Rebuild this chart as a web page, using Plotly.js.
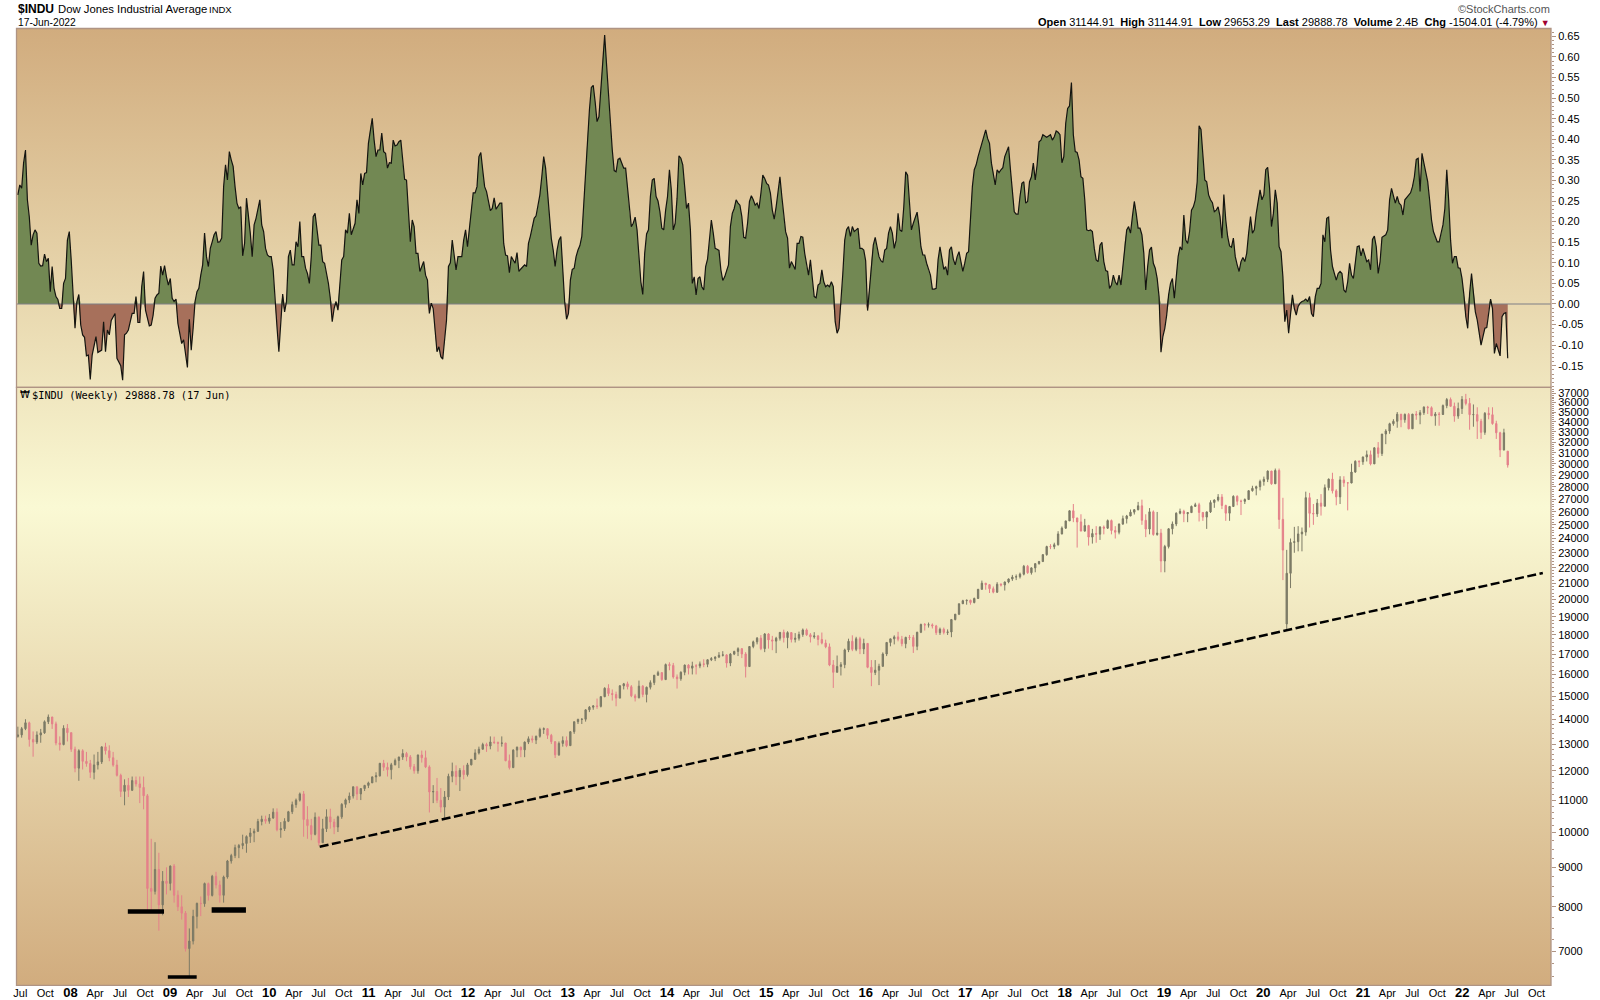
<!DOCTYPE html>
<html><head><meta charset="utf-8">
<script src="https://cdn.plot.ly/plotly-3.0.1.min.js"></script>
<style>
html,body{margin:0;padding:0;background:#fff;width:1600px;height:1000px;overflow:hidden}
#bg{position:absolute;left:16.5px;top:28.5px;width:1534.5px;height:957px;background:linear-gradient(#D1AC7E 0%,#FAF9D4 50%,#D1AC7E 100%)}
#chart{position:absolute;left:0;top:0;width:1600px;height:1000px}
</style></head><body>
<div id="bg"></div><div id="chart"></div>
<script>
// Weekly indicator reading, first 2007-06-22, last 2022-06-17
const indicator = [
.265,.289,.281,.342,.374,.253,.212,.143,.168,.18,.172,.099,.092,.093,.121,.103,.111,.03,.091,.038,.018,.011,-.011,-.011,.05,.062,.155,.176,.107,.018,-.059,.006,.023,-.051,-.075,-.081,-.126,-.124,-.183,-.124,-.104,-.079,-.118,-.116,-.112,-.043,-.116,-.063,-.075,-.04,-.031,-.023,-.132,-.14,-.15,-.185,-.075,-.071,-.063,-.043,-.023,-.023,.018,-.045,-.045,.042,.079,-.015,-.035,-.053,-.051,-.027,.014,.022,.026,.092,.07,.093,.066,.046,.062,.014,.006,.012,-.047,-.071,-.096,-.087,-.12,-.154,-.037,-.112,-.059,.006,.03,.038,.07,.095,.172,.115,.091,.135,.151,.168,.176,.15,.151,.16,.285,.338,.301,.37,.35,.334,.285,.245,.232,.236,.117,.147,.257,.22,.172,.115,.192,.208,.232,.253,.192,.176,.135,.119,.115,.115,.083,.002,-.055,-.116,-.039,.024,-.019,.006,.115,.131,.095,.095,.151,.139,.2,.115,.115,.087,.074,.05,.115,.212,.22,.18,.143,.143,.103,.099,.074,.05,.014,-.043,-.011,.006,-.015,.05,.107,.115,.18,.172,.22,.168,.18,.196,.253,.22,.317,.289,.317,.319,.39,.427,.451,.398,.358,.374,.374,.415,.37,.366,.33,.343,.342,.398,.384,.386,.394,.398,.342,.303,.301,.228,.151,.204,.188,.123,.123,.079,.091,.103,.07,.058,-.023,.002,-.011,-.071,-.116,-.104,-.128,-.134,-.087,-.039,.091,.1,.155,.115,.083,.115,.115,.115,.155,.18,.139,.188,.228,.27,.27,.285,.358,.368,.325,.285,.273,.249,.227,.232,.258,.23,.236,
.245,.245,.147,.119,.117,.076,.115,.107,.099,.125,.079,.085,.091,.095,.091,.147,.165,.184,.208,.214,.236,.265,.309,.358,.33,.277,.216,.159,.131,.091,.13,.155,.164,.091,.006,-.037,-.023,.058,.084,.087,.115,.131,.142,.164,.245,.325,.406,.471,.526,.531,.491,.443,.455,.524,.593,.653,.581,.504,.439,.374,.324,.321,.351,.354,.342,.33,.33,.285,.224,.188,.196,.211,.18,.115,.054,.023,.123,.17,.18,.261,.301,.305,.261,.25,.224,.184,.18,.228,.261,.326,.277,.18,.196,.257,.36,.354,.338,.285,.232,.245,.18,.05,.066,.022,.062,.066,.042,.034,.091,.109,.151,.204,.172,.135,.133,.13,.083,.057,.066,.084,.095,.188,.22,.232,.253,.245,.24,.212,.162,.16,.196,.249,.263,.253,.24,.245,.232,.269,.313,.305,.293,.289,.269,.228,.206,.236,.269,.309,.261,.212,.175,.16,.087,.103,.091,.084,.147,.147,.164,.162,.123,.091,.07,.107,.058,.018,.015,.046,.05,.083,.054,.042,.046,.042,.054,.042,-.043,-.071,-.059,-.002,.074,.155,.181,.188,.164,.188,.176,.18,.184,.135,.135,.131,.105,-.016,.042,.107,.143,.162,.135,.115,.105,.101,.131,.135,.172,.188,.172,.135,.155,.22,.18,.176,.236,.321,.313,.236,.18,.196,.212,.223,.188,.139,.119,.119,.099,.081,.07,.036,.036,.038,.107,.139,.115,.084,.091,.07,.131,.139,.109,.095,.115,.127,.103,.079,.099,.123,.127,.22,.285,.326,.338,.358,.374,.39,.406,.423,.402,.39,.342,.32,.289,.326,.319,.326,.331,.358,.37,.382,.326,.277,.224,.218,.218,.261,.293,.297,.245,.249,.297,.309,.342,.301,.338,.394,.398,.411,.407,.405,.408,
.411,.398,.406,.42,.417,.411,.343,.358,.439,.475,.481,.538,.411,.37,.368,.35,.309,.305,.253,.18,.178,.18,.176,.135,.107,.103,.143,.15,.103,.081,.079,.038,.046,.07,.054,.046,.07,.046,.091,.151,.18,.188,.172,.212,.249,.22,.184,.184,.168,.123,.034,.091,.131,.138,.099,.087,.062,.018,-.117,-.079,-.059,-.027,.022,.05,.062,.014,.066,.115,.139,.131,.216,.155,.147,.176,.228,.236,.253,.297,.433,.424,.362,.301,.297,.265,.253,.246,.224,.228,.236,.212,.16,.266,.204,.164,.141,.138,.16,.115,.095,.079,.103,.113,.103,.123,.172,.212,.172,.18,.22,.249,.277,.253,.265,.326,.332,.281,.188,.22,.277,.245,.139,.127,.066,-.043,-.015,-.071,-.027,.022,-.011,-.027,-.006,.002,.006,.008,.012,.006,.018,-.023,-.031,.018,.038,.038,.05,.168,.151,.208,.211,.131,.091,.074,.058,.074,.079,.074,.034,.028,.054,.099,.07,.062,.107,.139,.141,.117,.135,.119,.103,.107,.083,.157,.165,.139,.074,.103,.162,.165,.168,.18,.253,.281,.261,.245,.261,.245,.24,.216,.253,.259,.265,.27,.285,.309,.351,.354,.273,.366,.342,.321,.297,.253,.204,.176,.162,.151,.151,.168,.192,.232,.326,.253,.155,.099,.115,.115,.088,.087,.062,.022,-.031,-.059,.026,.074,.034,-.019,-.039,-.071,-.1,-.079,-.059,-.057,-.015,.012,-.011,-.12,-.096,-.112,-.126,-.031,-.023,-.021,-.132];

// Two-weekly price bars, first 2007-06-22, last 2022-06-17
const closes = [
13360,13611,13851,13181,13079,13357,13442,13895,14093,13806,13042,12980,13625,13450,
12800,12099,12743,12348,12266,11951,12216,12325,12891,12745,12479,12209,11842,11288,11496,11326,11659,11543,11421,11143,8451,8378,8943,8046,8635,8579,
9034,8281,8000,7850,7062,7223,7776,8083,8076,8574,8277,8763,8539,8280,8743,9171,9321,9544,9605,9665,9864,9972,10023,10318,10388,10328,
10428,10609,10067,10099,10325,10624,10850,10997,11204,10380,10193,9931,10450,9686,10097,10465,10303,10150,10462,10860,11006,11132,11444,11203,11382,11491,
11578,11787,11823,12273,12130,12044,12220,12380,12505,12638,12512,12151,12004,12582,12479,12143,11269,11284,10992,10771,11103,11809,11983,11796,12019,11866,12217,
12422,12660,12801,12983,12922,13080,13060,13029,13038,12369,12118,12767,12880,12777,13075,13207,13157,13306,13579,13610,13343,13093,12588,13025,13135,12938,
13488,13895,13992,14000,14397,14512,14565,14547,14973,15354,15115,15070,14909,15464,15558,15425,15010,14922,15451,15072,15399,15615,15961,16086,15755,16478,
16437,15879,15794,16103,16452,16302,16412,16408,16512,16491,16717,16775,16851,16943,16960,16553,17001,17137,17279,17009,16380,17390,17634,17828,17280,18053,
17737,17672,17824,18140,17856,18127,17763,17826,18024,18272,18010,17898,17946,17760,17568,17373,16459,16102,16384,16472,17215,17663,17245,17798,17265,17552,
16346,16093,16204,16391,17006,17602,17792,17897,17773,17535,17873,17865,17400,18146,18570,18543,18552,18491,18123,18308,18138,18161,18847,19152,19756,19933,
19963,19827,20071,20624,21005,20914,20663,20453,20940,20896,21080,21271,21394,21414,21580,22092,21674,21987,22268,22405,22871,23434,23422,23557,24329,24754,
25295,26071,25520,25219,24538,24946,24103,24360,24311,24831,24753,25316,24580,24456,25058,25462,25669,25964,26154,26458,25339,24688,25989,24285,24389,22445,
23433,24706,25063,25883,26026,25848,25928,26412,26543,25942,25585,25983,26719,26922,27154,26485,25886,26403,27219,26820,26816,26958,27681,27875,28015,28455,
28634,29348,28256,29398,25409,23185,21636,23719,23775,24331,24465,27111,25871,25827,26672,26428,27931,28653,27665,27173,28586,28335,28323,29263,30218,30179,
30606,30814,29983,31458,30932,32779,33072,33800,34043,34777,34207,34756,33290,34786,34687,34935,35515,35455,34607,34798,34746,35677,36327,35601,34580,35365,36338,
35911,34725,34738,34058,32944,34861,34721,33811,32899,31262,32899,29888];
const highs = [
13692,13680,14000,13900,13500,13500,13600,13950,14198,14100,13900,13300,13750,13800,
13450,12900,12800,12800,12700,12400,12600,12700,12900,13050,12950,12700,12400,11900,11700,11750,11800,11800,11800,11800,11200,9800,9700,9400,8900,9000,
9050,9090,8400,8280,7900,7500,7930,8100,8250,8600,8600,8800,8880,8650,8780,9200,9370,9630,9650,9920,9900,10120,10100,10400,10500,10500,
10550,10730,10730,10300,10420,10650,10950,11050,11250,11300,10800,10400,10600,10480,10400,10700,10720,10400,10500,10900,11050,11250,11450,11450,11400,11510,
11620,11800,11950,12290,12400,12300,12290,12450,12520,12800,12700,12580,12250,12600,12750,12750,12200,11500,11750,11400,11300,11900,12300,12200,12100,12200,12290,
12430,12800,12900,13050,13050,13300,13290,13100,13300,13050,12600,12800,12900,12900,13100,13300,13330,13330,13650,13660,13600,13400,13100,13100,13300,13300,
13500,13900,14020,14040,14420,14560,14600,14890,15000,15400,15540,15300,15200,15500,15600,15660,15500,15100,15710,15500,15430,15720,15980,16175,16110,16530,
16590,16560,16000,16150,16480,16500,16620,16500,16630,16740,16740,16850,16890,17100,17150,17000,17050,17170,17350,17300,17100,17400,17700,17890,17990,18100,
18100,17950,17900,18150,18290,18200,18100,18100,18180,18350,18350,18100,18150,18000,18130,17750,17550,16700,16930,16600,17280,17800,17980,17900,17900,17800,
17400,16700,16700,16520,17090,17620,17800,17980,18170,17950,17900,18000,18000,18170,18620,18650,18680,18630,18550,18400,18400,18300,18880,19160,19760,19990,
20000,20000,20120,20650,21170,21000,20950,20800,21070,21000,21110,21300,21530,21560,21680,22180,22180,22020,22290,22450,22910,23490,23600,23700,24530,24880,
25300,26100,26600,25500,25800,25450,25000,24700,24900,24900,24950,25400,25400,24900,25100,25700,25750,26170,26200,26770,26950,25800,26280,26100,25980,24700,
23550,24750,25250,25950,26240,26150,25950,26480,26700,26700,25950,26000,26900,26970,27400,27400,26550,26450,27300,27300,26950,27050,27700,28090,28100,28610,
28870,29400,29370,29570,29570,27100,23200,24000,24850,24900,24800,27600,27500,26600,27000,27400,28200,28700,29200,27800,28900,28900,28400,30000,30300,30300,
30650,31200,31200,31500,32000,32780,33250,33900,34260,35000,34800,34850,34900,34800,35100,35200,35600,35650,35600,35000,35000,35800,36500,36550,36000,36000,36700,
36950,36500,35800,35500,34300,35000,35500,35500,34100,33000,33300,31144];
const lows = [
13250,13250,13550,12900,12518,13000,13050,13400,13800,13600,12950,12750,12950,13100,
12700,11950,11650,12050,12150,11750,11700,12050,12250,12600,12350,12150,11800,11100,10830,11100,11300,11450,10900,10700,7882,7900,8300,7449,7800,8300,
8400,8100,7900,7700,7000,6470,7150,7500,7780,8000,8150,8250,8450,8100,8100,8700,9100,9250,9250,9500,9400,9680,9700,10000,10200,10250,
10250,10400,10020,9830,10030,10300,10550,10750,10950,9860,9800,9757,9900,9600,9690,10000,10100,9936,10000,10400,10750,10900,11050,11000,11000,11300,
11400,11600,11600,11800,12000,11800,11700,12200,12100,12400,12350,12050,11900,11900,12300,12100,10600,10900,10900,10600,10400,11000,11600,11500,11300,11700,11800,
12200,12400,12600,12800,12700,12800,13000,12710,12900,12350,12050,12100,12500,12500,12500,13000,13050,13000,13250,13400,13200,13000,12470,12550,12900,12880,
13100,13400,13800,13800,13900,14300,14400,14440,14500,14950,15000,14800,14550,14900,15300,15300,14950,14760,14900,14950,14720,15300,15500,15950,15700,15800,
16200,15800,15340,15700,15960,16000,16000,16000,16300,16350,16350,16650,16650,16800,16880,16330,16400,16950,16900,16800,15855,16400,17300,17500,17200,17100,
17280,17200,17050,17700,17600,17300,17600,17600,17700,17900,17950,17600,17800,17450,17500,17300,16400,15370,16100,15950,16300,17100,17150,17150,17000,17000,
16300,15450,15970,15500,16400,16900,17400,17500,17660,17400,17300,17730,17060,17200,18100,18240,18400,18350,18000,18000,18030,18000,17880,18800,19100,19750,
19700,19700,19780,20050,20600,20600,20400,20380,20400,20800,20550,21000,21150,21200,21300,21500,21600,21550,21700,22200,22400,22800,23250,23250,23500,24300,
24700,25300,25200,23360,24700,24500,23500,23640,23700,23900,24300,24700,24300,24000,24300,25000,25100,25650,25780,26100,25000,24100,24300,24200,24200,21700,
21700,23300,24300,24900,25800,25200,25200,25900,26400,25250,25300,24700,25900,26300,26800,26200,25300,25300,26400,26500,25740,26600,27000,27600,27300,27700,
28100,28400,28170,28400,24700,21200,18213,20700,23000,23100,23100,24200,24800,25000,25600,25700,26500,27700,27450,26500,26600,28000,26100,28300,29200,29700,
29900,30200,29850,30000,30550,30700,31800,32800,33600,33400,33450,33900,33250,33300,34200,33750,34700,34800,34600,33600,33600,34700,35400,35600,34000,34300,34800,
35700,33200,33500,32300,32300,32700,34250,33700,32300,30600,31200,29653];
const firstOpen = 13300;
// Bars whose open sits apart from the previous close in the picture
const openOverrides = {'2020-03-27':18600,'2022-06-17':31144};

// Hand-drawn annotations on the price panel
const trendX = ['2010-07-05','2022-10-24'];
const trendY = [9568,21660];
const supportAX = ['2008-07-30','2008-12-10'], supportAY = [7891,7891];
const supportBX = ['2008-12-24','2009-04-09'], supportBY = [6487,6487];
const supportCX = ['2009-06-03','2009-10-07'], supportCY = [7922,7922];

const indTicks = [-.15,-.10,-.05,0,.05,.10,.15,.20,.25,.30,.35,.40,.45,.50,.55,.60,.65];
const priceTicks = [7000,8000,9000,10000,11000,12000,13000,14000,15000,16000,17000,18000,19000,20000,21000,22000,23000,24000,25000,26000,27000,28000,29000,30000,31000,32000,33000,34000,35000,36000,37000];
const W = 1600, H = 1000, END = Date.UTC(2022,5,17);
const border = '#AF9484';
const fx = (t)=>new Date(t).toISOString().slice(0,10);
const indDates = indicator.map((_,i)=>fx(END-(indicator.length-1-i)*7*864e5));
const barDates = closes.map((_,i)=>fx(END-(closes.length-1-i)*14*864e5));
const opens = closes.map((_,i)=>openOverrides[barDates[i]]||(i?closes[i-1]:firstOpen));

const tickvals=[],ticktext=[];
for(let y=2007;y<=2022;y++){for(const m of [0,3,6,9]){
  const d=Date.UTC(y,m,1); if(d<Date.UTC(2007,5,20))continue;
  tickvals.push(fx(d));
  ticktext.push(m===0?'<b style="font-size:13px">'+String(y).slice(2)+'</b>':({0:'',3:'Apr',6:'Jul',9:'Oct'})[m]);
}}
const minorPrice=[]; for(let v=6500;v<10000;v+=250)minorPrice.push(v); for(let v=10000;v<=37500;v+=200)minorPrice.push(v);

const traces=[
 {x:indDates,y:indicator.map(v=>Math.max(v,0)),type:'scatter',mode:'none',fill:'tozeroy',fillcolor:'#728853',xaxis:'x',yaxis:'y',hoverinfo:'skip'},
 {x:indDates,y:indicator.map(v=>Math.min(v,0)),type:'scatter',mode:'none',fill:'tozeroy',fillcolor:'#A7705B',xaxis:'x',yaxis:'y',hoverinfo:'skip'},
 {x:['2007-06-17','2022-11-23'],y:[0,0],type:'scatter',mode:'lines',line:{color:'#7F7F85',width:1.2},xaxis:'x',yaxis:'y',hoverinfo:'skip'},
 {x:indDates,y:indicator,type:'scatter',mode:'lines',line:{color:'#141410',width:1.2},xaxis:'x',yaxis:'y',hoverinfo:'skip'},
 {x:barDates,open:opens,high:highs,low:lows,close:closes,type:'candlestick',xaxis:'x',yaxis:'y2',whiskerwidth:0,hoverinfo:'skip',
  increasing:{line:{color:'#7C7A66',width:1},fillcolor:'#7C7A66'},
  decreasing:{line:{color:'#E4808A',width:1},fillcolor:'#E4808A'}},
 {x:trendX,y:trendY,type:'scatter',mode:'lines',line:{color:'#000',width:2.5,dash:'9px,3.5px'},xaxis:'x',yaxis:'y2',hoverinfo:'skip'},
 {x:supportAX,y:supportAY,type:'scatter',mode:'lines',line:{color:'#000',width:4.5},xaxis:'x',yaxis:'y2',hoverinfo:'skip'},
 {x:supportBX,y:supportBY,type:'scatter',mode:'lines',line:{color:'#000',width:3.5},xaxis:'x',yaxis:'y2',hoverinfo:'skip'},
 {x:supportCX,y:supportCY,type:'scatter',mode:'lines',line:{color:'#000',width:5.5},xaxis:'x',yaxis:'y2',hoverinfo:'skip'}
];
const px=x=>x/W, py=y=>1-y/H;
const ann=(x,y,text,size,anchor,extra)=>Object.assign({xref:'paper',yref:'paper',x:px(x),y:py(y),text,showarrow:false,xanchor:anchor||'left',yanchor:'middle',align:anchor||'left',borderpad:0,font:{family:'"Liberation Sans",Arial,sans-serif',size,color:'#000'}},extra||{});
const annotations=[
 ann(16.5,9.5,'<b>$INDU</b>',12),
 ann(57,9.5,'Dow Jones Industrial Average',11.3),
 ann(208,9.5,'INDX',9.5),
 ann(16.5,22.5,'17-Jun-2022',10.3),
 ann(1551,9.5,'©StockCharts.com',11,'right',{font:{family:'"Liberation Sans",Arial,sans-serif',size:11,color:'#555'}}),
 ann(1551,22.5,'<b>Open</b> 31144.91  <b>High</b> 31144.91  <b>Low</b> 29653.29  <b>Last</b> 29888.78  <b>Volume</b> 2.4B  <b>Chg</b> -1504.01 (-4.79%) <span style="color:#A00030;font-size:9px">▼</span>',11,'right'),
 ann(19,394.5,'₩',10,'left',{font:{family:'"DejaVu Sans",sans-serif',size:10,color:'#000'}}),
 ann(31,394.5,'$INDU (Weekly) 29888.78 (17 Jun)',10.3,'left',{font:{family:'"DejaVu Sans Mono",monospace',size:10.3,color:'#000'}})
];
const frame=(y0,y1)=>({type:'rect',xref:'paper',yref:'paper',x0:px(16.5),x1:px(1551),y0:py(y1),y1:py(y0),line:{color:border,width:1.3},fillcolor:'rgba(0,0,0,0)',layer:'above'});
const tickFont={family:'"Liberation Sans",Arial,sans-serif',size:11,color:'#000'};
const layout={
 width:W,height:H,margin:{l:0,r:0,t:0,b:0,pad:0},paper_bgcolor:'rgba(0,0,0,0)',plot_bgcolor:'rgba(0,0,0,0)',showlegend:false,hovermode:false,boxgap:0.5,
 shapes:[frame(28.5,387.3),frame(387.3,985.3)],annotations,
 xaxis:{type:'date',domain:[px(16.5),px(1551)],range:['2007-06-17','2022-11-23'],anchor:'y2',tickmode:'array',tickvals,ticktext,ticks:'',tickfont:tickFont,showgrid:false,zeroline:false,showline:false,rangeslider:{visible:false},tickangle:0},
 yaxis:{domain:[py(387.3),py(28.5)],range:[-.2023,.669],side:'right',anchor:'x',tickmode:'array',tickvals:indTicks,ticktext:indTicks.map(v=>v.toFixed(2)),ticks:'outside',ticklen:4,tickcolor:border,tickwidth:1,tickfont:tickFont,showgrid:false,zeroline:false,showline:false,
   minor:{dtick:.01,ticks:'outside',ticklen:2,tickcolor:border,tickwidth:1,showgrid:false}},
 yaxis2:{domain:[py(985.3),py(387.3)],type:'log',range:[Math.log10(6330),Math.log10(37680)],side:'right',anchor:'x',tickmode:'array',tickvals:priceTicks,ticktext:priceTicks.map(String),ticks:'outside',ticklen:4,tickcolor:border,tickwidth:1,tickfont:tickFont,showgrid:false,zeroline:false,showline:false,
   minor:{tickmode:'array',tickvals:minorPrice,ticks:'outside',ticklen:2,tickcolor:border,tickwidth:1,showgrid:false}}
};
Plotly.newPlot('chart',traces,layout,{staticPlot:true,displayModeBar:false});
</script></body></html>
